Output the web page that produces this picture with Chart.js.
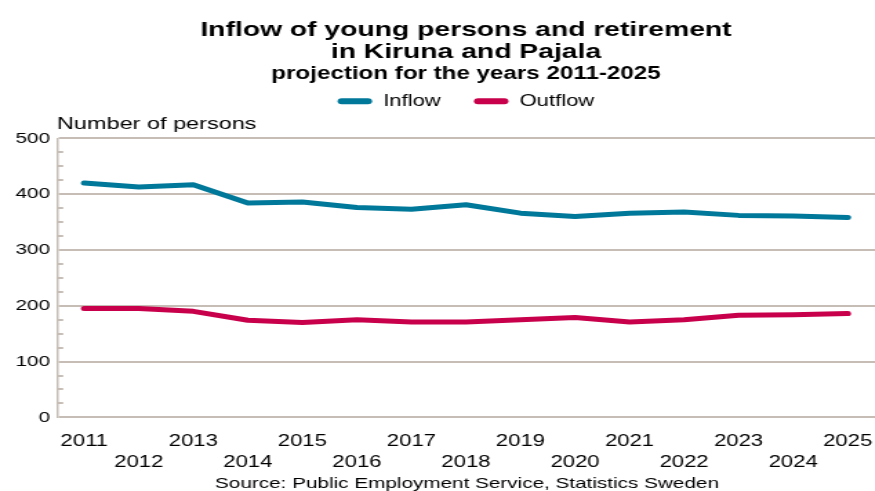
<!DOCTYPE html>
<html>
<head>
<meta charset="utf-8">
<script src="https://cdn.jsdelivr.net/npm/chart.js@4.4.1/dist/chart.umd.min.js"></script>
<style>
  html, body { margin: 0; padding: 0; background: #fff; overflow: hidden; }
  /* the reference is horizontally stretched, so draw narrow and stretch */
  #wrap { width: 634px; height: 491px; transform: scaleX(1.38); transform-origin: 0 0; }
</style>
</head>
<body>
<div id="wrap"><canvas id="flowChart"></canvas></div>
<script>
// Data
const years = ['2011', '2012', '2013', '2014', '2015', '2016', '2017', '2018',
               '2019', '2020', '2021', '2022', '2023', '2024', '2025'];
const inflow = [420, 413, 417, 384, 386, 376, 373, 381, 366, 360, 366, 368, 362, 361, 358];
const outflow = [195, 195, 190, 174, 170, 175, 171, 171, 175, 179, 171, 175, 183, 184, 186];
const yTicks = [0, 100, 200, 300, 400, 500];

const S = 1.38;   // horizontal stretch
const FONT = "'Liberation Sans', Arial, sans-serif";
const GRID = '#c6beb6';

// Extra room under the legend for the axis title
const legendMargin = {
    id: 'legendMargin',
    beforeInit(chart) {
        const fit = chart.legend.fit;
        chart.legend.fit = function() {
            fit.bind(chart.legend)();
            this.height += 19;
        };
    }
};

// Axis title, minor ticks and source line
const extras = {
    id: 'extras',
    afterDraw(chart) {
        const ctx = chart.ctx;
        const y = chart.scales.y;
        const area = chart.chartArea;
        ctx.save();
        // minor ticks every 25
        ctx.strokeStyle = GRID;
        ctx.lineWidth = 2;
        for (let v = 25; v < 500; v += 25) {
            if (v % 100 === 0) continue;
            const py = Math.round(y.getPixelForValue(v));
            ctx.beginPath();
            ctx.moveTo(area.left, py);
            ctx.lineTo(area.left + 4.5, py);
            ctx.stroke();
        }
        ctx.fillStyle = '#000';
        ctx.font = '17px ' + FONT;
        ctx.textAlign = 'left';
        ctx.textBaseline = 'alphabetic';
        ctx.fillText('Number of persons', area.left, area.top - 9);
        ctx.font = '15px ' + FONT;
        ctx.textAlign = 'center';
        ctx.fillText('Source: Public Employment Service, Statistics Sweden', 467 / S, 488);
        ctx.restore();
    }
};

function initFlowChart() {
    const ctx = document.getElementById('flowChart').getContext('2d');
    new Chart(ctx, {
        type: 'line',
        data: {
            labels: years,
            datasets: [
                {
                    label: 'Inflow',
                    data: inflow,
                    borderColor: '#00789a',
                    backgroundColor: '#00789a',
                    borderWidth: 5,
                    pointRadius: 0,
                    borderCapStyle: 'round',
                    borderJoinStyle: 'round',
                    tension: 0
                },
                {
                    label: 'Outflow',
                    data: outflow,
                    borderColor: '#c8004b',
                    backgroundColor: '#c8004b',
                    borderWidth: 5,
                    pointRadius: 0,
                    borderCapStyle: 'round',
                    borderJoinStyle: 'round',
                    tension: 0
                }
            ]
        },
        options: {
            responsive: true,
            maintainAspectRatio: false,
            animation: false,
            layout: { autoPadding: false, padding: { left: 0, right: 0, top: 0, bottom: 4 } },
            scales: {
                x: {
                    offset: true,
                    grid: { display: false, drawTicks: false },
                    border: { display: false },
                    afterFit: function(scale) {
                        // plot runs to the right edge
                        scale.paddingLeft = 0;
                        scale.paddingRight = 0;
                    },
                    ticks: {
                        color: '#000',
                        font: { family: FONT, size: 16, lineHeight: 1.3 },
                        maxRotation: 0,
                        autoSkip: false,
                        padding: 14,
                        callback: function(value, index) {
                            const lab = years[index];
                            return index % 2 === 0 ? lab : ['', lab];
                        }
                    }
                },
                y: {
                    min: 0,
                    max: 500,
                    afterFit: function(scale) { scale.width = 57 / S; },
                    afterBuildTicks: function(scale) {
                        scale.ticks = yTicks.map(v => ({ value: v }));
                    },
                    grid: { color: GRID, lineWidth: 2, drawTicks: false },
                    border: { color: GRID, width: 1.5 },
                    ticks: {
                        color: '#000',
                        font: { family: FONT, size: 15 },
                        padding: 5
                    }
                }
            },
            plugins: {
                title: {
                    display: true,
                    fullSize: false,
                    text: ['Inflow of young persons and retirement', 'in Kiruna and Pajala'],
                    color: '#000',
                    font: { family: FONT, size: 20.5, weight: 'bold', lineHeight: 1.07 },
                    padding: { top: 19, bottom: 2 }
                },
                subtitle: {
                    display: true,
                    fullSize: false,
                    text: 'projection for the years 2011-2025',
                    color: '#000',
                    font: { family: FONT, size: 17.5, weight: 'bold', lineHeight: 1.0 },
                    padding: { top: 1, bottom: -14 }
                },
                legend: {
                    position: 'top',
                    fullSize: false,
                    labels: {
                        color: '#000',
                        font: { family: FONT, size: 16 },
                        boxWidth: 25,
                        boxHeight: 6,
                        useBorderRadius: true,
                        borderRadius: 3,
                        padding: 24,
                        generateLabels: function(chart) {
                            const items = Chart.defaults.plugins.legend.labels.generateLabels(chart);
                            items.forEach(item => { item.lineWidth = 0; });
                            return items;
                        }
                    }
                },
                tooltip: { enabled: false }
            }
        },
        plugins: [legendMargin, extras]
    });
}

initFlowChart();
</script>
</body>
</html>
